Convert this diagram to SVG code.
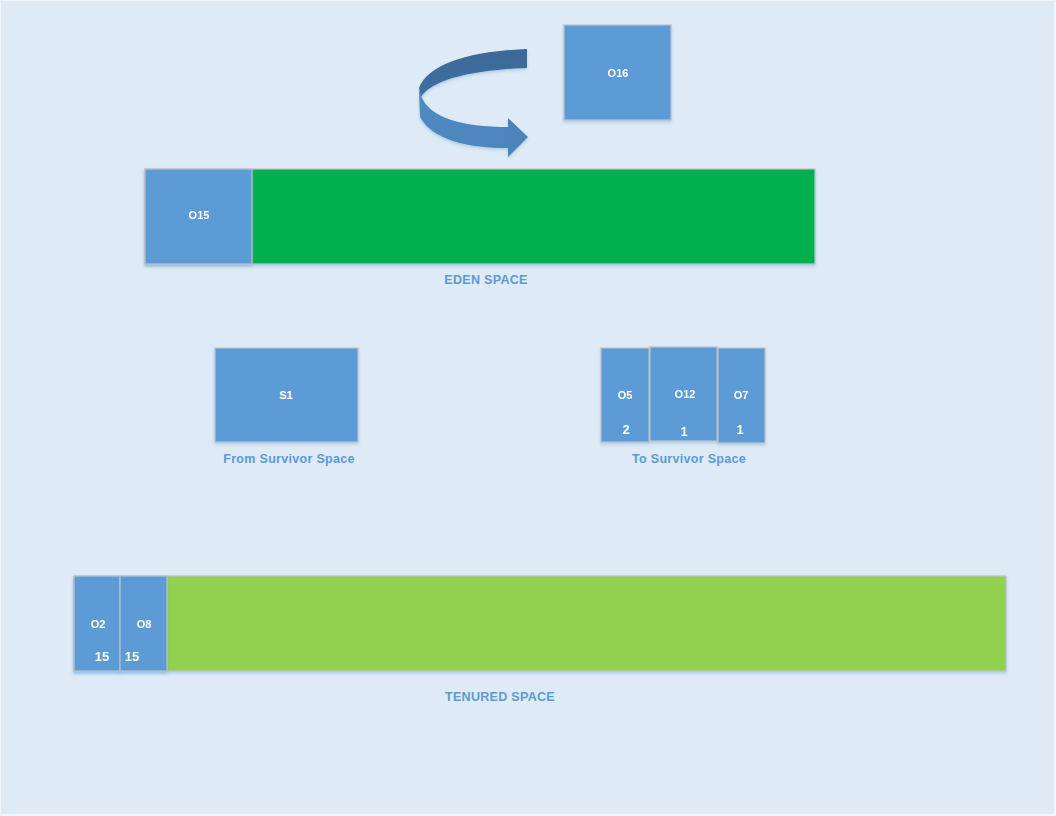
<svg xmlns="http://www.w3.org/2000/svg" width="1056" height="816" viewBox="0 0 1056 816">
<style>
.box{fill:#5B9BD5;stroke:#BDC3C9;stroke-width:1.2}
.lbl{font-family:"Liberation Sans",Arial,sans-serif;font-size:11px;font-weight:bold;fill:#FFFFFF;text-anchor:middle}
.num{font-family:"Liberation Sans",Arial,sans-serif;font-size:13px;font-weight:bold;fill:#FFFFFF;text-anchor:middle}
.cap{font-family:"Liberation Sans",Arial,sans-serif;font-size:12.5px;font-weight:bold;fill:#5B9BD5;text-anchor:middle;letter-spacing:0.3px}
</style>
<defs>
<filter id="sh" x="-10%" y="-10%" width="120%" height="130%">
<feDropShadow dx="0" dy="2" stdDeviation="1.5" flood-color="#5B9BD5" flood-opacity="0.35"/>
</filter>
<linearGradient id="gTop" x1="0" y1="0" x2="0" y2="1">
<stop offset="0" stop-color="#3B6A98"/>
<stop offset="1" stop-color="#3F70A0"/>
</linearGradient>
<linearGradient id="gBot" x1="0" y1="0" x2="1" y2="0">
<stop offset="0" stop-color="#4F8AC0"/>
<stop offset="1" stop-color="#4A84BA"/>
</linearGradient>
</defs>
<rect x="0" y="0" width="1056" height="816" fill="#F3F6FA"/>
<rect x="1" y="1" width="1053" height="813" fill="#DEEAF5"/>

<g id="rotate-arrow" filter="url(#sh)">
<path d="M419,90 L420,117 C433,141 470,148 508,148 L508,157 L528,137 L508,118 L508,127 C462,127 430,118 421,96 Z" fill="url(#gBot)"/>
<path d="M527,49 C470,51 428,64 419,88 L421,97 C432,80 470,70 527,68 Z" fill="url(#gTop)"/>
</g>

<g id="O16" filter="url(#sh)">
<rect class="box" x="564" y="25" width="107" height="95"/>
<text class="lbl" x="618" y="77">O16</text>
</g>

<g id="eden">
<rect x="145" y="169" width="670" height="95" fill="#00B050" stroke="#BDC3C9" stroke-width="1.2" filter="url(#sh)"/>
<text class="cap" x="486" y="284">EDEN SPACE</text>
</g>
<g id="O15" filter="url(#sh)">
<rect class="box" x="145" y="169" width="107" height="95"/>
<text class="lbl" x="199" y="219">O15</text>
</g>

<g id="from-survivor">
<rect class="box" x="215" y="348" width="143" height="94" filter="url(#sh)"/>
<text class="lbl" x="286" y="399">S1</text>
<text class="cap" x="289" y="463">From Survivor Space</text>
</g>

<g id="to-survivor">
<text class="cap" x="689" y="463">To Survivor Space</text>
</g>
<g id="O5" filter="url(#sh)">
<rect class="box" x="601" y="348" width="48" height="94"/>
<text class="lbl" x="625" y="399">O5</text>
<text class="num" x="626" y="434">2</text>
</g>
<g id="O12" filter="url(#sh)">
<rect class="box" x="650" y="347" width="67" height="94"/>
<text class="lbl" x="685" y="398">O12</text>
<text class="num" x="684" y="436">1</text>
</g>
<g id="O7" filter="url(#sh)">
<rect class="box" x="718" y="348" width="47" height="95"/>
<text class="lbl" x="741" y="399">O7</text>
<text class="num" x="740" y="434">1</text>
</g>

<g id="tenured">
<rect x="74" y="576" width="932" height="95" fill="#92D050" stroke="#BDC3C9" stroke-width="1.2" filter="url(#sh)"/>
<text class="cap" x="500" y="701">TENURED SPACE</text>
</g>
<g id="O2" filter="url(#sh)">
<rect class="box" x="74" y="576" width="46" height="95"/>
<text class="lbl" x="98" y="628">O2</text>
<text class="num" x="102" y="661">15</text>
</g>
<g id="O8" filter="url(#sh)">
<rect class="box" x="120" y="576" width="47" height="95"/>
<text class="lbl" x="144" y="628">O8</text>
<text class="num" x="132" y="661">15</text>
</g>
</svg>
